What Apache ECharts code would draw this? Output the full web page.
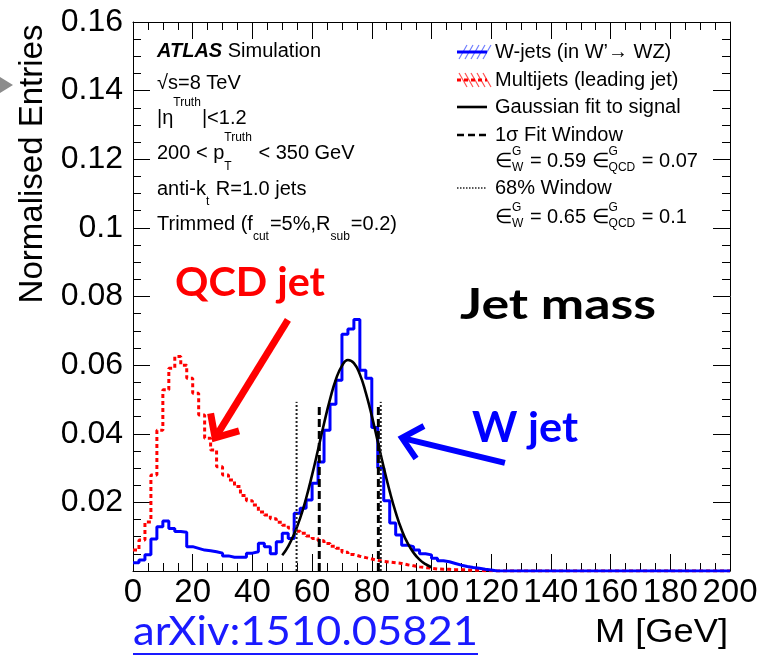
<!DOCTYPE html>
<html>
<head>
<meta charset="utf-8">
<script src="https://cdn.jsdelivr.net/npm/echarts@6/dist/echarts.min.js"></script>
<style>
  html, body { margin: 0; padding: 0; background: #fff; }
  #main { width: 759px; height: 667px; }
</style>
</head>
<body>
<div id="main"></div>
<script>
// Jet mass histograms, 2 GeV bins starting at 0 GeV (bins past the list are empty)
const binWidth = 2;
const massMax = 200;

const wJets = [
  0.0024, 0.0032, 0.0047, 0.0093, 0.0129, 0.0146, 0.0124, 0.0115, 0.0113, 0.0071,
  0.0066, 0.0061, 0.0059, 0.0056, 0.0052, 0.0044, 0.0040, 0.0040, 0.0040, 0.0052,
  0.0056, 0.0081, 0.0071, 0.0050, 0.0085, 0.0110, 0.0095, 0.0168, 0.0183, 0.0207,
  0.0256, 0.0318, 0.0410, 0.0486, 0.0556, 0.0690, 0.0705, 0.0733, 0.0585, 0.0562,
  0.0418, 0.0300, 0.0205, 0.0140, 0.0105, 0.0075, 0.0071, 0.0061, 0.0050, 0.0047,
  0.0037, 0.0030, 0.0027, 0.0022, 0.0017, 0.0013, 0.0010, 0.0008, 0.0005, 0.0003
];

const multijets = [
  0.0061, 0.0090, 0.0143, 0.0280, 0.0410, 0.0528, 0.0591, 0.0625, 0.0600, 0.0562,
  0.0518, 0.0455, 0.0387, 0.0353, 0.0304, 0.0280, 0.0265, 0.0246, 0.0220, 0.0205,
  0.0192, 0.0172, 0.0163, 0.0152, 0.0142, 0.0133, 0.0125, 0.0116, 0.0110, 0.0102,
  0.0095, 0.0088, 0.0080, 0.0072, 0.0066, 0.0055, 0.0048, 0.0043, 0.0039, 0.0035,
  0.0031, 0.0028, 0.0026, 0.0024, 0.0022, 0.0018, 0.0015, 0.0012, 0.0010, 0.0008,
  0.0006, 0.0005, 0.0005, 0.0004, 0.0004, 0.0003, 0.0002, 0.0002, 0.0001, 0.0001
];

// Gaussian fit to the signal, sampled along the drawn curve
const fitMass = [50, 52, 54, 56, 58, 60, 62, 64, 66, 68, 70, 72, 74, 76, 78, 80, 82, 84, 86, 88, 90, 92, 94, 96, 98, 100];
const fitValues = [
  0.0046, 0.0072, 0.0108, 0.0154, 0.0212, 0.0280, 0.0354, 0.0430, 0.0500, 0.0559,
  0.0598, 0.0615, 0.0606, 0.0573, 0.0519, 0.0452, 0.0377, 0.0302, 0.0232, 0.0171,
  0.0120, 0.0081, 0.0053, 0.0033, 0.0020, 0.0011
];

// Mass windows: edges [GeV] and drawn height
const sigmaWindow = [62.4, 82.2];
const sigmaWindowTop = 0.0484;
const window68 = [54.8, 83.0];
const window68Top = 0.0493;

// Axis tick labels
const xTickLabels = ['0', '20', '40', '60', '80', '100', '120', '140', '160', '180', '200'];
const yTickLabels = ['', '0.02', '0.04', '0.06', '0.08', '0.1', '0.12', '0.14', '0.16'];

// Annotation arrows, tail -> tip, in (GeV, entries)
const qcdArrow = [[51.9, 0.0732], [27.5, 0.0388]];
const wArrow = [[124.6, 0.0315], [90.1, 0.0388]];

const FONT = '"Liberation Sans", Arial, Helvetica, sans-serif';
const BIGFONT = 'Lato, "Open Sans", sans-serif';

function histogramPath(values) {
  const pts = [];
  const nBins = Math.round(massMax / binWidth);
  for (let i = 0; i < nBins; i++) {
    const v = i < values.length ? values[i] : 0;
    pts.push([i * binWidth, v], [(i + 1) * binWidth, v]);
  }
  return pts;
}

const chart = echarts.init(document.getElementById('main'), null, { renderer: 'canvas' });

const axisBase = {
  type: 'value',
  axisLine: { show: true, onZero: false, lineStyle: { color: '#000', width: 1 } },
  axisTick: { show: true, inside: true, length: 17, lineStyle: { color: '#000', width: 1 } },
  minorTick: { show: true, splitNumber: 4, length: 8, lineStyle: { color: '#000', width: 1 } },
  splitLine: { show: false },
  minorSplitLine: { show: false }
};

const series = [
  {
    name: 'Multijets (leading jet)', type: 'line', xAxisIndex: 0, yAxisIndex: 0,
    data: histogramPath(multijets), showSymbol: false, silent: true,
    lineStyle: { color: '#ff0000', width: 3, type: [4, 3] }, z: 3
  },
  {
    name: 'W-jets', type: 'line', xAxisIndex: 0, yAxisIndex: 0,
    data: histogramPath(wJets), showSymbol: false, silent: true,
    lineStyle: { color: '#0000ff', width: 3 }, z: 4
  },
  {
    name: 'Gaussian fit', type: 'line', xAxisIndex: 0, yAxisIndex: 0,
    data: fitMass.map((m, i) => [m, fitValues[i]]), smooth: true, showSymbol: false, silent: true,
    lineStyle: { color: '#000', width: 2.6 }, z: 5
  }
];
window68.forEach(m => series.push({
  type: 'line', data: [[m, 0], [m, window68Top]], showSymbol: false, silent: true,
  lineStyle: { color: '#222', width: 2, type: [2, 2] }, z: 5
}));
sigmaWindow.forEach(m => series.push({
  type: 'line', data: [[m, 0], [m, sigmaWindowTop]], showSymbol: false, silent: true,
  lineStyle: { color: '#000', width: 3, type: [8, 4] }, z: 6
}));

chart.setOption({
  animation: false,
  backgroundColor: '#fff',
  grid: { left: 133, right: 29, top: 22, bottom: 96, containLabel: false, outerBoundsMode: 'none' },
  xAxis: [
    Object.assign({}, axisBase, {
      min: 0, max: massMax, interval: 20, position: 'bottom',
      axisLabel: { show: true, color: '#000', fontFamily: FONT, fontSize: 33, margin: 5,
        formatter: (v, i) => xTickLabels[i] }
    }),
    Object.assign({}, axisBase, {
      min: 0, max: massMax, interval: 20, position: 'top', axisLabel: { show: false }
    })
  ],
  yAxis: [
    Object.assign({}, axisBase, {
      min: 0, max: 0.16, interval: 0.02, position: 'left',
      axisLabel: { show: true, color: '#000', fontFamily: FONT, fontSize: 32, margin: 10,
        formatter: (v, i) => yTickLabels[i] }
    }),
    Object.assign({}, axisBase, {
      min: 0, max: 0.16, interval: 0.02, position: 'right', axisLabel: { show: false }
    })
  ],
  series: series
});

// ---- text layout helpers (sub/superscripts) ----
const measureCtx = document.createElement('canvas').getContext('2d');
function measure(text, size, weight, style, family) {
  measureCtx.font = `${style || 'normal'} ${weight || 'normal'} ${size}px ${family || FONT}`;
  return measureCtx.measureText(text).width;
}
function textEl(text, x, y, size, opts) {
  opts = opts || {};
  const el = {
    type: 'text', x: x, y: y, silent: true, z: 50,
    style: {
      text: text, fill: opts.color || '#000', fontSize: size,
      fontFamily: opts.family || FONT, fontWeight: opts.weight || 'normal',
      fontStyle: opts.style || 'normal', align: opts.align || 'left', verticalAlign: 'middle'
    }
  };
  // stretch horizontally to a given footprint width
  if (opts.width) {
    el.scaleX = opts.width / measure(text, size, opts.weight, opts.style, opts.family);
  }
  return el;
}
// parts: plain strings, {b: text} bold italic, {sup, sub} scripts
function scriptLine(x, y, parts, size, supDy, subDy, small) {
  const els = [];
  let cx = x;
  parts.forEach(p => {
    if (typeof p === 'string') {
      els.push(textEl(p, cx, y, size));
      cx += measure(p, size);
    } else if (p.b) {
      els.push(textEl(p.b, cx, y, size, { weight: 'bold', style: 'italic' }));
      cx += measure(p.b, size, 'bold', 'italic');
    } else {
      let w = 0;
      if (p.sup) { els.push(textEl(p.sup, cx, y + supDy, small)); w = Math.max(w, measure(p.sup, small)); }
      if (p.sub) { els.push(textEl(p.sub, cx, y + subDy, small)); w = Math.max(w, measure(p.sub, small)); }
      cx += w + 1;
    }
  });
  return els;
}

function arrowEls(arrow, color, width) {
  const a = chart.convertToPixel({ xAxisIndex: 0, yAxisIndex: 0 }, arrow[0]);
  const b = chart.convertToPixel({ xAxisIndex: 0, yAxisIndex: 0 }, arrow[1]);
  const dx = a[0] - b[0], dy = a[1] - b[1];
  const len = Math.hypot(dx, dy);
  const ux = dx / len, uy = dy / len;
  const headLen = 25, ang = 42 * Math.PI / 180;
  const rot = (s) => [ux * Math.cos(s) - uy * Math.sin(s), ux * Math.sin(s) + uy * Math.cos(s)];
  const w1 = rot(ang), w2 = rot(-ang);
  return [
    { type: 'line', silent: true, z: 40, shape: { x1: a[0], y1: a[1], x2: b[0] + ux * 3, y2: b[1] + uy * 3 },
      style: { stroke: color, lineWidth: width, lineCap: 'butt' } },
    { type: 'polyline', silent: true, z: 40,
      shape: { points: [[b[0] + w1[0] * headLen, b[1] + w1[1] * headLen], [b[0], b[1]], [b[0] + w2[0] * headLen, b[1] + w2[1] * headLen]] },
      style: { stroke: color, lineWidth: width, lineJoin: 'miter', fill: null } }
  ];
}

const graphics = [];

// Left-hand description block
const lx = 157, small = 12;
graphics.push(...scriptLine(lx, 51, [{ b: 'ATLAS' }, ' Simulation'], 20, -15, 13, small));
graphics.push(...scriptLine(lx, 83, ['\u221As=8 TeV'], 20, -15, 13, small));
graphics.push(...scriptLine(lx, 118, ['|\u03B7', { sup: 'Truth' }, '|<1.2'], 20, -15, 13, small));
graphics.push(...scriptLine(lx, 153, ['200 < p', { sup: 'Truth', sub: 'T' }, ' < 350 GeV'], 20, -15, 14, small));
graphics.push(...scriptLine(lx, 189, ['anti-k', { sub: 't' }, ' R=1.0 jets'], 20, -15, 13, small));
graphics.push(...scriptLine(lx, 224, ['Trimmed (f', { sub: 'cut' }, '=5%,R', { sub: 'sub' }, '=0.2)'], 20, -15, 13, small));

// Legend block
const gx0 = 457, gx1 = 487, tx = 495;
// W-jets: hatched box with solid blue line
for (let k = 0; k < 5; k++) {
  graphics.push({ type: 'line', silent: true, z: 45,
    shape: { x1: gx0 + 2 + k * 6, y1: 59, x2: gx0 + 10 + k * 6, y2: 45 },
    style: { stroke: '#6f7dff', lineWidth: 1.2 } });
}
graphics.push({ type: 'line', silent: true, z: 46, shape: { x1: gx0, y1: 52, x2: gx1, y2: 52 },
  style: { stroke: '#0000ff', lineWidth: 3 } });
graphics.push(...scriptLine(tx, 52, ['W-jets (in W\u2019\u2192 WZ)'], 20, -9, 7, small));
// Multijets: hatched box with dotted red line
for (let k = 0; k < 5; k++) {
  graphics.push({ type: 'line', silent: true, z: 45,
    shape: { x1: gx0 + 2 + k * 6, y1: 73, x2: gx0 + 10 + k * 6, y2: 87 },
    style: { stroke: '#ff5050', lineWidth: 1.2 } });
}
graphics.push({ type: 'line', silent: true, z: 46, shape: { x1: gx0, y1: 80, x2: gx1, y2: 80 },
  style: { stroke: '#ff0000', lineWidth: 3, lineDash: [4, 3] } });
graphics.push(...scriptLine(tx, 80, ['Multijets (leading jet)'], 20, -9, 7, small));
// Gaussian fit
graphics.push({ type: 'line', silent: true, z: 46, shape: { x1: gx0, y1: 107, x2: gx1, y2: 107 },
  style: { stroke: '#000', lineWidth: 2.6 } });
graphics.push(...scriptLine(tx, 107, ['Gaussian fit to signal'], 20, -9, 7, small));
// 1 sigma window
graphics.push({ type: 'line', silent: true, z: 46, shape: { x1: gx0, y1: 135, x2: gx1, y2: 135 },
  style: { stroke: '#000', lineWidth: 2.6, lineDash: [7, 4] } });
graphics.push(...scriptLine(tx, 135, ['1\u03C3 Fit Window'], 20, -9, 7, small));
graphics.push(...scriptLine(tx, 161, ['\u2208', { sup: 'G', sub: 'W' }, ' = 0.59 \u2208', { sup: 'G', sub: 'QCD' }, ' = 0.07'], 20, -9, 7, small));
// 68% window
graphics.push({ type: 'line', silent: true, z: 46, shape: { x1: gx0, y1: 188, x2: gx1, y2: 188 },
  style: { stroke: '#222', lineWidth: 1.6, lineDash: [1.5, 1.5] } });
graphics.push(...scriptLine(tx, 188, ['68% Window'], 20, -9, 7, small));
graphics.push(...scriptLine(tx, 217, ['\u2208', { sup: 'G', sub: 'W' }, ' = 0.65 \u2208', { sup: 'G', sub: 'QCD' }, ' = 0.1'], 20, -9, 7, small));

// Axis titles
graphics.push({
  type: 'text', x: 33, y: 164, rotation: Math.PI / 2, silent: true, z: 50,
  style: { text: 'Normalised Entries', fill: '#000', fontSize: 33, fontFamily: FONT, align: 'center', verticalAlign: 'middle' }
});
graphics.push(textEl('M [GeV]', 728, 633, 34, { align: 'right', width: 133 }));

// Slide annotations
graphics.push(textEl('QCD jet', 250, 283, 41, { family: BIGFONT, weight: 'bold', color: '#ff0000', align: 'center', width: 150 }));
graphics.push(textEl('Jet mass', 558, 305, 42, { family: BIGFONT, weight: 'bold', color: '#000', align: 'center', width: 196 }));
graphics.push(textEl('W jet', 525, 428, 42, { family: BIGFONT, weight: 'bold', color: '#0000ff', align: 'center', width: 106 }));
graphics.push(...arrowEls(qcdArrow, '#ff0000', 7));
graphics.push(...arrowEls(wArrow, '#0000ff', 6));

graphics.push(textEl('arXiv:1510.05821', 133, 632, 40, { family: BIGFONT, color: '#1a1aff', width: 345 }));
graphics.push({ type: 'line', silent: true, z: 50,
  shape: { x1: 133, y1: 654, x2: 478, y2: 654 },
  style: { stroke: '#1a1aff', lineWidth: 2 } });

// Small grey pointer at the left edge
graphics.push({ type: 'polygon', silent: true, z: 50,
  shape: { points: [[0, 77], [13, 85], [0, 93]] }, style: { fill: '#8c8c8c' } });

chart.setOption({ graphic: graphics });
</script>
</body>
</html>
